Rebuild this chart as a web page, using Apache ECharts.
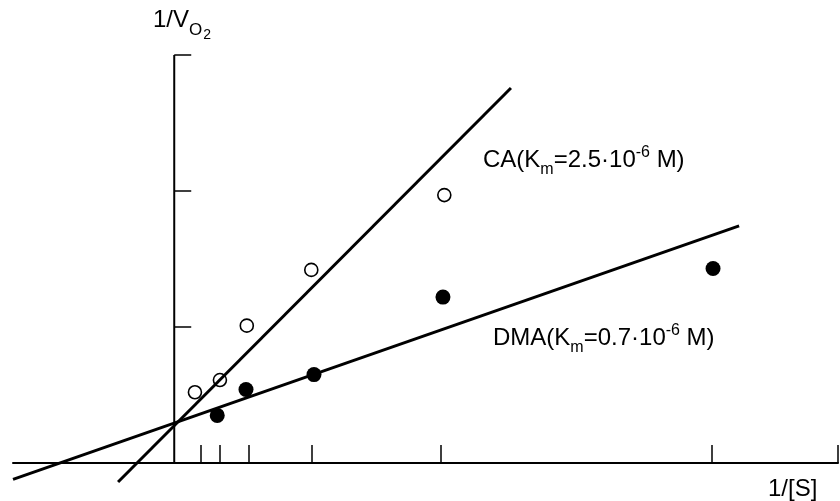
<!DOCTYPE html>
<html>
<head>
<meta charset="utf-8">
<script src="https://cdn.jsdelivr.net/npm/echarts@6/dist/echarts.min.js"></script>
<style>
  html, body { margin: 0; padding: 0; background: #fff; }
  #chart { width: 840px; height: 501px; }
</style>
</head>
<body>
<div id="chart"></div>
<script>
// Tick positions on the 1/[S] and 1/V axes
const xTicks = [1, 1.7, 2.77, 5.12, 9.9, 20, 24.7];
const yTicks = [1, 2, 3];

// CA measurements (open circles)
const caX = [0.77, 1.7, 2.7, 5.1, 10.05];
const caY = [0.52, 0.61, 1.01, 1.42, 1.97];

// DMA measurements (filled circles)
const dmaX = [1.6, 2.67, 5.2, 10.0, 20.05];
const dmaY = [0.35, 0.54, 0.65, 1.22, 1.43];

// Fitted Lineweaver-Burk lines (end points)
const caLineX = [-2.09, 12.53];
const caLineY = [-0.14, 2.757];
const dmaLineX = [-6.0, 21.02];
const dmaLineY = [-0.12, 1.743];

// Vertical axis line from origin to top tick
const yAxisLineX = [0, 0];
const yAxisLineY = [0, 3];

const zip = (xs, ys) => xs.map((x, i) => [x, ys[i]]);
const FONT = '"Liberation Sans", Arial, sans-serif';

const chart = echarts.init(document.getElementById('chart'), null, { renderer: 'canvas' });

const mainStyle = { fontSize: 24, fontFamily: FONT, color: '#000', lineHeight: 32, verticalAlign: 'middle' };
const subStyle = { fontSize: 16, fontFamily: FONT, color: '#000', height: 13, lineHeight: 32, verticalAlign: 'bottom' };
const supStyle = { fontSize: 16, fontFamily: FONT, color: '#000', height: 17, lineHeight: 32, verticalAlign: 'top' };

chart.setOption({
  backgroundColor: '#fff',
  animation: false,
  grid: { left: 13, right: 2, top: 55, bottom: 4, containLabel: false },
  xAxis: {
    type: 'value',
    min: -6,
    max: 24.7,
    axisLine: { show: true, onZero: true, lineStyle: { color: '#000', width: 2 } },
    axisTick: { show: true, inside: true, length: 18, customValues: xTicks, lineStyle: { color: '#000', width: 1.5 } },
    axisLabel: { show: false },
    splitLine: { show: false }
  },
  yAxis: {
    type: 'value',
    min: -0.25,
    max: 3,
    axisLine: { show: true, onZero: true, lineStyle: { color: '#000', opacity: 0 } },
    axisTick: { show: true, inside: true, length: 17, customValues: yTicks, lineStyle: { color: '#000', width: 1.5 } },
    axisLabel: { show: false },
    splitLine: { show: false }
  },
  series: [
    {
      type: 'line', silent: true, symbol: 'none', z: 1,
      data: zip(yAxisLineX, yAxisLineY),
      lineStyle: { color: '#000', width: 2 }
    },
    {
      name: 'CA fit', type: 'line', silent: true, symbol: 'none', z: 2,
      data: zip(caLineX, caLineY),
      lineStyle: { color: '#000', width: 3 }
    },
    {
      name: 'DMA fit', type: 'line', silent: true, symbol: 'none', z: 2,
      data: zip(dmaLineX, dmaLineY),
      lineStyle: { color: '#000', width: 3 }
    },
    {
      name: 'CA', type: 'scatter', z: 3,
      symbol: 'circle', symbolSize: 13,
      data: zip(caX, caY),
      itemStyle: { color: 'rgba(255,255,255,0)', borderColor: '#000', borderWidth: 1.6, opacity: 1 }
    },
    {
      name: 'DMA', type: 'scatter', z: 3,
      symbol: 'circle', symbolSize: 15,
      data: zip(dmaX, dmaY),
      itemStyle: { color: '#000', opacity: 1 }
    }
  ],
  graphic: [
    {
      type: 'text', x: 153, y: 20,
      style: {
        text: '{a|1/V}{o|O}{t|2}',
        textVerticalAlign: 'middle',
        rich: {
          a: mainStyle,
          o: { fontSize: 17, fontFamily: FONT, color: '#000', height: 11, lineHeight: 32, verticalAlign: 'bottom' },
          t: { fontSize: 14, fontFamily: FONT, color: '#000', height: 2, lineHeight: 32, verticalAlign: 'bottom', padding: [0, 0, 0, 1] }
        }
      }
    },
    {
      type: 'text', x: 483, y: 160,
      style: {
        text: '{a|CA(K}{s|m}{a|=2.5·10}{p|-6}{a| M)}',
        textVerticalAlign: 'middle',
        rich: { a: mainStyle, s: subStyle, p: supStyle }
      }
    },
    {
      type: 'text', x: 493, y: 338,
      style: {
        text: '{a|DMA(K}{s|m}{a|=0.7·10}{p|-6}{a| M)}',
        textVerticalAlign: 'middle',
        rich: { a: mainStyle, s: subStyle, p: supStyle }
      }
    },
    {
      type: 'text', x: 768, y: 489,
      style: {
        text: '1/[S]',
        fontSize: 24, fontFamily: FONT, fill: '#000',
        textVerticalAlign: 'middle'
      }
    }
  ]
});
</script>
</body>
</html>
